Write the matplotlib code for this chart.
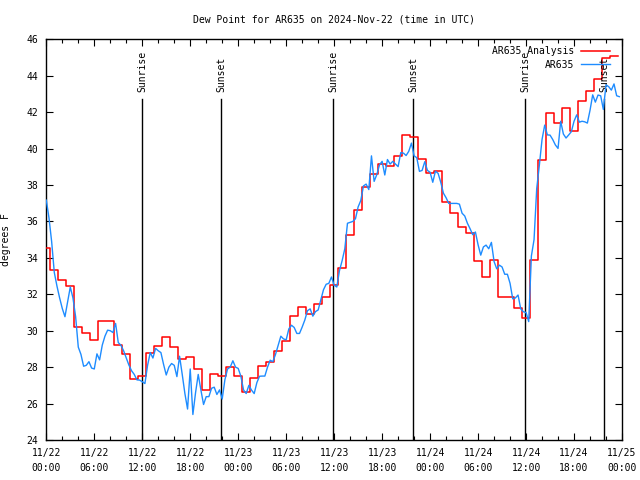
import matplotlib
matplotlib.use("Agg")
import matplotlib.pyplot as plt
import numpy as np
from matplotlib.ticker import FixedLocator, MultipleLocator

# ---------------- data ----------------
title = "Dew Point for AR635 on 2024-Nov-22 (time in UTC)"
ylabel = "degrees F"
series_names = ["AR635 Analysis", "AR635"]

# hourly analysis (hours since 2024-11-22 00:00 UTC), each value starts at its hour - 0.5
analysis_start_hour = -0.5
analysis_values = [
    34.52, 33.31, 32.77, 32.44, 30.19, 29.86, 29.49, 30.53, 30.53, 29.21,
    28.72, 27.34, 27.53, 28.79, 29.16, 29.64, 29.09, 28.44, 28.54, 27.88,
    26.73, 27.60, 27.51, 27.99, 27.51, 26.63, 27.38, 28.06, 28.26, 28.87,
    29.43, 30.79, 31.30, 30.90, 31.45, 31.87, 32.51, 33.42, 35.25, 36.63,
    37.91, 38.60, 39.15, 39.04, 39.59, 40.74, 40.65, 39.41, 38.64, 38.78,
    37.05, 36.44, 35.71, 35.38, 33.84, 32.93, 33.88, 31.87, 31.83, 31.23,
    30.68, 33.88, 39.37, 41.97, 41.42, 42.21, 40.98, 42.60, 43.18, 43.80,
    44.96, 45.08, 45.08,
]

# observations every 20 minutes starting 2024-11-22 00:00 UTC
obs_step_hours = 1.0 / 3.0
obs_values = [
    37.17, 36.20, 34.90, 33.20, 32.45, 31.80, 31.22, 30.77, 31.60, 32.40,
    31.80, 30.77, 29.10, 28.70, 28.05, 28.10, 28.30, 27.95, 27.90, 28.73,
    28.40, 29.21, 29.70, 30.03, 30.00, 29.90, 30.40, 29.35, 29.20, 28.90,
    28.50, 28.11, 27.80, 27.60, 27.30, 27.29, 27.20, 27.10, 28.10, 28.80,
    28.50, 29.03, 28.90, 28.80, 28.15, 27.57, 28.00, 28.20, 28.10, 27.48,
    28.60, 27.60, 26.55, 25.70, 27.90, 25.40, 26.60, 27.60, 26.75, 25.95,
    26.38, 26.38, 26.84, 26.90, 26.50, 26.75, 26.25, 27.30, 27.90, 28.00,
    28.35, 28.00, 27.93, 27.50, 26.75, 26.55, 27.00, 26.74, 26.55, 27.15,
    27.50, 27.51, 27.51, 28.00, 28.38, 28.30, 28.70, 29.20, 29.70, 29.55,
    29.50, 30.10, 30.30, 30.18, 29.85, 29.85, 30.20, 30.59, 31.10, 31.20,
    30.80, 31.05, 31.14, 31.70, 32.25, 32.55, 32.60, 32.95, 32.50, 32.40,
    33.30, 33.85, 34.50, 35.90, 35.95, 36.00, 36.15, 36.80, 37.15, 37.95,
    38.05, 37.75, 39.60, 38.20, 38.57, 39.10, 39.30, 38.55, 39.40, 39.15,
    39.30, 39.15, 39.01, 39.78, 39.75, 39.62, 39.85, 40.30, 39.60, 39.50,
    38.75, 38.80, 39.28, 38.80, 38.70, 38.15, 38.76, 38.64, 38.15, 37.55,
    37.30, 36.99, 36.99, 36.99, 36.99, 36.95, 36.45, 36.30, 35.90, 35.60,
    35.27, 35.42, 34.72, 34.15, 34.60, 34.70, 34.50, 34.85, 33.80, 33.40,
    33.60, 33.50, 33.10, 33.10, 32.60, 31.75, 31.80, 31.96, 31.20, 31.04,
    31.00, 30.50, 34.10, 35.00, 37.80, 39.10, 40.50, 41.29, 40.75, 40.74,
    40.50, 40.20, 40.01, 41.50, 40.80, 40.58, 40.75, 40.93, 41.50, 41.85,
    41.45, 41.50, 41.47, 41.40, 42.10, 42.95, 42.55, 42.94, 42.90, 42.15,
    43.50, 43.40, 43.21, 43.55, 42.90, 42.85,
]

sun_event_hours = [12.0, 21.84, 35.9, 45.88, 59.88, 69.75]
sun_event_labels = ["Sunrise", "Sunset", "Sunrise", "Sunset", "Sunrise", "Sunset"]

xtick_hours = [0, 6, 12, 18, 24, 30, 36, 42, 48, 54, 60, 66, 72]
xtick_labels = ["11/22\n00:00", "11/22\n06:00", "11/22\n12:00", "11/22\n18:00",
                "11/23\n00:00", "11/23\n06:00", "11/23\n12:00", "11/23\n18:00",
                "11/24\n00:00", "11/24\n06:00", "11/24\n12:00", "11/24\n18:00",
                "11/25\n00:00"]
y_range = (24, 46)
x_range = (0, 72)

# ---------------- plot ----------------
plt.rcParams["font.family"] = ["DejaVu Sans Mono"]
plt.rcParams["font.size"] = 7

fig = plt.figure(figsize=(6.4, 4.8), dpi=100)
ax = fig.add_axes([46.3 / 640, 40 / 480, 575.7 / 640, 400.7 / 480])

a_hours = analysis_start_hour + np.arange(len(analysis_values))
o_hours = np.arange(len(obs_values)) * obs_step_hours

ax.step(a_hours, analysis_values, where="post", color="#ff0000", lw=1.1,
        label=series_names[0], zorder=3)
ax.plot(o_hours, obs_values, color="#1e8cff", lw=1.0, label=series_names[1], zorder=4)

line_top = 0.851
for h, lab in zip(sun_event_hours, sun_event_labels):
    ax.axvline(h, ymin=0, ymax=line_top, color="black", lw=1.0, zorder=2)
    ax.text(h, 0.868, lab, rotation=90, ha="center", va="bottom",
            transform=ax.get_xaxis_transform(), fontsize=7)

ax.set_xlim(*x_range)
ax.set_ylim(*y_range)
ax.xaxis.set_major_locator(FixedLocator(xtick_hours))
ax.set_xticklabels(xtick_labels, linespacing=1.7)
ax.xaxis.set_minor_locator(MultipleLocator(2))
ax.yaxis.set_major_locator(MultipleLocator(2))

ax.tick_params(axis="both", which="major", direction="in", length=5, width=0.8,
               top=True, right=True, labelsize=7)
ax.tick_params(axis="x", which="major", pad=5.5)
ax.tick_params(axis="y", which="major", pad=6)
ax.tick_params(axis="x", which="minor", direction="in", length=3, width=0.8,
               top=True, bottom=True)
for s in ax.spines.values():
    s.set_linewidth(1.0)

ax.set_title(title, fontsize=7, pad=12)
ax.set_ylabel(ylabel, fontsize=7)
ax.yaxis.set_label_coords(-0.061, 0.5)

leg = ax.legend(loc="upper right", bbox_to_anchor=(0.979, 0.983), frameon=False,
                markerfirst=False, handlelength=3.0, handletextpad=0.7,
                labelspacing=0.35, borderaxespad=0, borderpad=0, fontsize=7)

fig.savefig("out.png", dpi=100)
